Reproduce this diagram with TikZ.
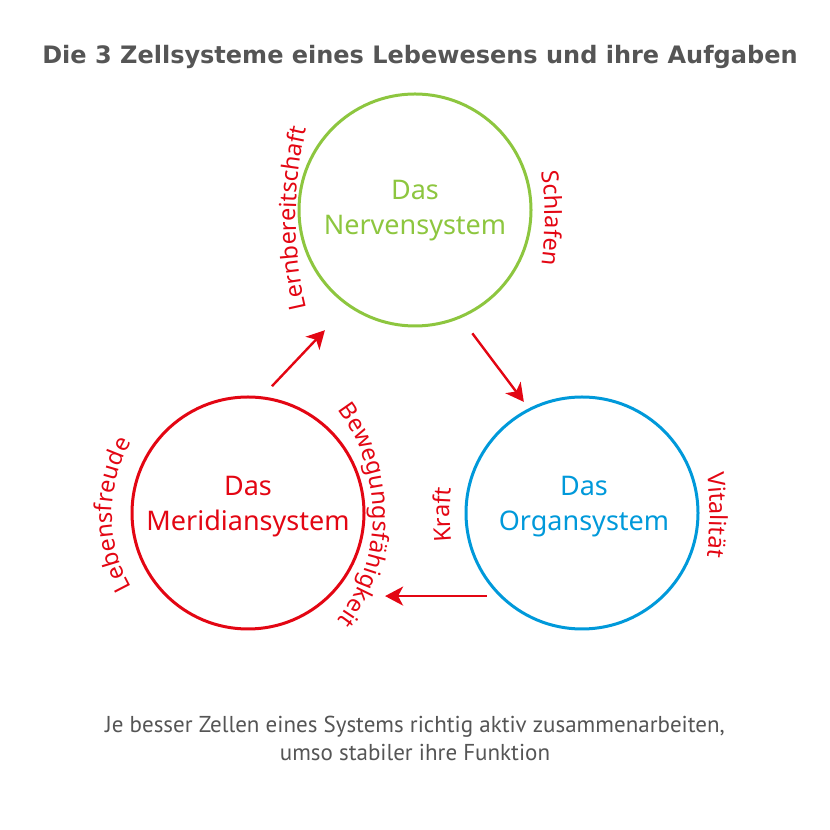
\documentclass[tikz,border=0pt]{standalone}
\usepackage{fontspec}
\usepackage{tikz}
\usetikzlibrary{arrows.meta, decorations.text}
\setmainfont{Noto Sans}
\newfontfamily\titelfont{DejaVu Sans}
\newfontfamily\fazitfont{PT Sans}
\definecolor{zgreen}{RGB}{141,198,63}
\definecolor{zred}{RGB}{227,6,19}
\definecolor{zblue}{RGB}{0,153,218}
\definecolor{zgray}{RGB}{85,85,85}

\begin{document}
\begin{tikzpicture}[x=1pt, y=1pt,
	            zelle/.style={
	            circle,
	            draw,
	            line width=3pt,
	            minimum size=232pt,
	            inner sep=0pt,
	            },
	            zelltext/.style={
	            align=center,
	            font=\fontsize{27}{35}\selectfont,
	            },
	            >={Stealth[length=18pt, width=19pt, inset=5pt]},
	            fluss/.style={
	            ->,
	            draw=zred,
	            line width=2.4pt,
	            },
	            bogen/.style={
	            decorate,
	            decoration={text along path, text align=center,
	                text={|\fontsize{23.5}{27}\selectfont\color{zred}|#1}},
	            }]
	        \useasboundingbox (0,0) rectangle (830,830);

	        \node[text=zgray, font=\titelfont\fontsize{24}{28}\selectfont\bfseries] (titel) at (420,773) {Die 3 Zellsysteme eines Lebewesens und ihre Aufgaben};

	        % die drei Zellsysteme
	        \node[zelle, draw=zgreen] (nerven) at (415,620) {};
	        \node[zelle, draw=zred] (meridian) at (248,317) {};
	        \node[zelle, draw=zblue] (organ) at (582,317) {};

	        \node[zelltext, text=zgreen] (nerventext) at (415,619) {Das\\Nervensystem};
	        \node[zelltext, text=zred] (meridiantext) at (248,323) {Das\\Meridiansystem};
	        \node[zelltext, text=zblue] (organtext) at (584,323) {Das\\Organsystem};

	        % Kreislauf
	        \draw[fluss, shorten <=14pt, shorten >=33pt] (meridian.83.2) -- (nerven.235.4);
	        \draw[fluss, shorten <=19pt, shorten >=8pt] (nerven.293.4) -- (organ.117.6);
	        \draw[fluss, shorten <=12pt, shorten >=54pt] (organ.225) -- (meridian.315);

	        % Aufgaben an den Kreisen
	        \path[bogen=Lernbereitschaft] (686,612) ++(200:390) arc[start angle=200, end angle=160, radius=390];
	        \path[bogen=Schlafen] (192,612) ++(15:353) arc[start angle=15, end angle=-15, radius=353];
	        \path[bogen=Lebensfreude] (259,315) ++(215:147) arc[start angle=215, end angle=145, radius=147];
	        \path[bogen=Bewegungsfähigkeit] (200,315) ++(45:173) arc[start angle=45, end angle=-45, radius=173];
	        \path[bogen=Kraft] (752,315) ++(190:302) arc[start angle=190, end angle=170, radius=302];
	        \path[bogen=Vitalität] (408,315) ++(10:302) arc[start angle=10, end angle=-10, radius=302];

	        \node[align=center, text=zgray, font=\fazitfont\fontsize{23}{28}\selectfont] (fazit) at (415,92) {Je besser Zellen eines Systems richtig aktiv zusammenarbeiten,\\umso stabiler ihre Funktion};

	    \end{tikzpicture}
\end{document}
